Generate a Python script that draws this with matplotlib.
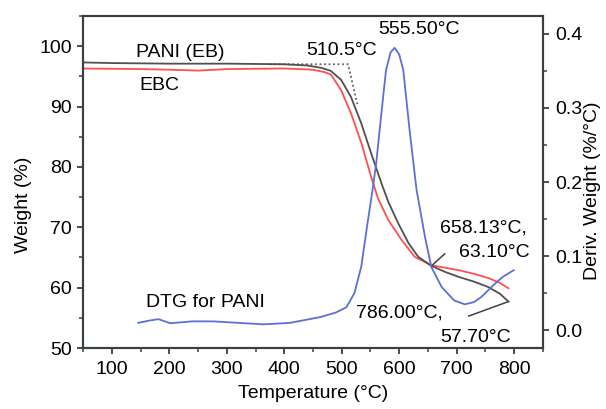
import matplotlib
matplotlib.use("Agg")
import matplotlib.pyplot as plt
from matplotlib.ticker import MultipleLocator

plt.rcParams['font.family'] = ['Liberation Sans', 'DejaVu Sans']

# PANI (EB) TGA curve
pani_T = [50, 100, 200, 300, 400, 440, 465, 481, 499, 516, 534, 551, 569, 581, 598, 616, 633, 656, 680, 703, 730, 755, 775, 790]
pani_W = [97.3, 97.2, 97.1, 97.1, 97.0, 96.8, 96.4, 95.9, 94.4, 91.6, 87.2, 82.3, 77.3, 74.2, 70.7, 67.4, 65.1, 63.6, 62.6, 61.8, 61.0, 60.1, 59.0, 57.7]

# EBC TGA curve
ebc_T = [50, 150, 200, 250, 300, 400, 450, 470, 481, 499, 516, 534, 551, 563, 581, 604, 627, 656, 680, 703, 730, 755, 775, 790]
ebc_W = [96.3, 96.2, 96.1, 95.95, 96.2, 96.3, 96.1, 95.7, 95.3, 92.7, 88.9, 84.0, 78.4, 74.8, 71.2, 67.9, 65.1, 63.7, 63.3, 62.9, 62.3, 61.6, 60.8, 59.9]

# DTG for PANI
dtg_T = [146, 165, 181, 202, 240, 277, 320, 364, 410, 464, 490, 508, 522, 534, 543, 551, 556, 560, 569, 577, 585, 592, 600, 607, 618, 630, 645, 656, 674, 696, 714, 730, 743, 764, 780, 799]
dtg_D = [0.010, 0.013, 0.015, 0.0095, 0.012, 0.012, 0.010, 0.008, 0.010, 0.018, 0.024, 0.031, 0.050, 0.086, 0.135, 0.176, 0.203, 0.226, 0.293, 0.351, 0.375, 0.381, 0.372, 0.351, 0.270, 0.190, 0.125, 0.085, 0.058, 0.040, 0.035, 0.038, 0.045, 0.061, 0.072, 0.081]

# onset construction (dotted)
onset_T = [375, 511, 528]
onset_W = [97.0, 97.0, 90.0]

x_ticks = [100, 200, 300, 400, 500, 600, 700, 800]
y_ticks = [50, 60, 70, 80, 90, 100]
d_ticks = [0.0, 0.1, 0.2, 0.3, 0.4]
d_labels = ['0.0', '0.1', '0.2', '0.3', '0.4']

fig = plt.figure(figsize=(6.06, 4.09), dpi=100)
ax = fig.add_axes([0.137, 0.149, 0.759, 0.812])
ax2 = ax.twinx()

spine_c = '#3a3f44'
ax.plot(pani_T, pani_W, color='#505050', lw=1.3, zorder=3)
ax.plot(ebc_T, ebc_W, color='#ff4f4f', lw=1.3, zorder=2)
ax.plot(onset_T, onset_W, color='#606060', lw=1.3, ls=(0, (1, 1.5)), zorder=2)
ax2.plot(dtg_T, dtg_D, color='#5b6fd6', lw=1.3)

# annotation leader lines
ax.plot([656, 679], [63.6, 65.6], color='#404040', lw=1.1)
ax.plot([790, 721], [57.7, 55.3], color='#404040', lw=1.1)

ax.set_xlim(50, 850)
ax.set_ylim(50, 105)
ax2.set_ylim(-0.024, 0.424)

ax.set_xticks(x_ticks)
ax.set_yticks(y_ticks)
ax.xaxis.set_minor_locator(MultipleLocator(50))
ax.yaxis.set_minor_locator(MultipleLocator(5))
ax2.set_yticks(d_ticks)
ax2.set_yticklabels(d_labels)
ax2.yaxis.set_minor_locator(MultipleLocator(0.05))

for a in (ax, ax2):
    for s in a.spines.values():
        s.set_color(spine_c)
        s.set_linewidth(1.5)
    a.tick_params(which='major', direction='out', length=4.5, width=1.3, color=spine_c, labelsize=14)
    a.tick_params(which='minor', direction='out', length=3, width=1.1, color=spine_c)
ax.tick_params(axis='x', which='major', pad=5)
ax.tick_params(axis='y', which='major', pad=3.5)
ax2.tick_params(axis='y', which='major', pad=4.5)

ax.set_xlabel('Temperature (°C)', fontsize=14)
ax.xaxis.set_label_coords(0.5, -0.112)
ax.set_ylabel('Weight (%)', fontsize=14)
ax.yaxis.set_label_coords(-0.111, 0.43)
ax2.set_ylabel('Deriv. Weight (%/°C)', fontsize=14)
ax2.yaxis.set_label_coords(1.089, 0.473)

fs = 14
ax.text(219, 99.0, 'PANI (EB)', fontsize=fs, va='center', ha='center')
ax.text(183, 93.4, 'EBC', fontsize=fs, va='center', ha='center')
ax.text(499, 99.3, '510.5°C', fontsize=fs, va='center', ha='center')
ax.text(635, 102.8, '555.50°C', fontsize=fs, va='center', ha='center')
ax.text(263, 57.6, 'DTG for PANI', fontsize=fs, va='center', ha='center')
ax.text(747, 69.9, '658.13°C,', fontsize=fs, va='center', ha='center')
ax.text(766, 65.9, '63.10°C', fontsize=fs, va='center', ha='center')
ax.text(600, 55.8, '786.00°C,', fontsize=fs, va='center', ha='center')
ax.text(733, 51.8, '57.70°C', fontsize=fs, va='center', ha='center')

fig.savefig('out.png', dpi=100)
